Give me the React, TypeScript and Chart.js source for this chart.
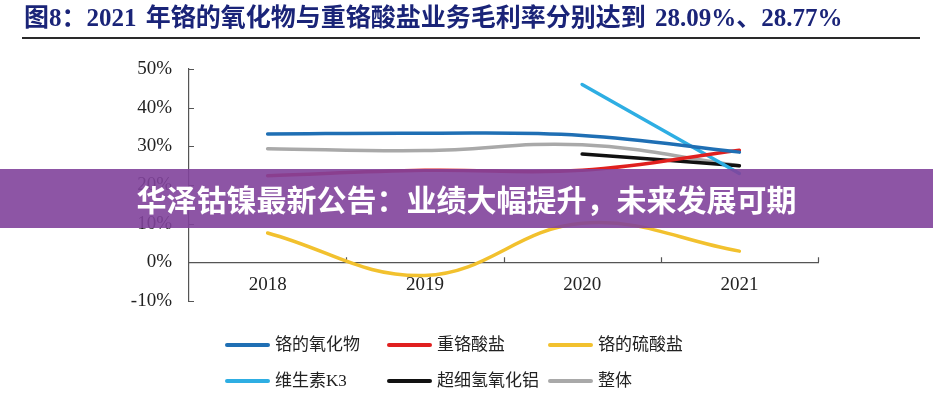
import React, { useEffect, useRef } from "react";
import { Chart, registerables } from "chart.js";

Chart.register(...registerables);

const titleText = "图8：2021 年铬的氧化物与重铬酸盐业务毛利率分别达到 28.09%、28.77%";
const bannerText = "华泽钴镍最新公告：业绩大幅提升，未来发展可期";

const years = ["2018", "2019", "2020", "2021"];
const yTicks = [-10, 0, 10, 20, 30, 40, 50];

const chromeOxide = [33.2, 33.4, 32.8, 28.5];
const dichromate = [22.4, 23.8, 23.8, 29.0];
const chromeSulfate = [7.6, -3.4, 10.1, 2.9];
const vitaminK3 = [null, null, 46.0, 23.0];
const aluminaHydroxide = [null, null, 28.0, 25.0];
const overall = [29.4, 28.9, 30.4, 25.0];

const seriesNames = ["铬的氧化物", "重铬酸盐", "铬的硫酸盐", "维生素K3", "超细氢氧化铝", "整体"];
const seriesColors = ["#1f6fb4", "#e0201f", "#f2c12e", "#2eaee3", "#111111", "#a9a9a9"];
const seriesValues = [chromeOxide, dichromate, chromeSulfate, vitaminK3, aluminaHydroxide, overall];

const innerTicks = {
  id: "innerTicks",
  beforeDatasetsDraw(chart: any) {
    const { ctx, scales } = chart;
    const x = scales.x;
    const y = scales.y;
    const y0 = y.getPixelForValue(0);
    ctx.save();
    ctx.strokeStyle = "#555";
    ctx.lineWidth = 1.2;
    ctx.beginPath();
    for (let i = 0; i < years.length; i++) {
      const px = Math.round(x.getPixelForValue(i + 0.5)) + 0.5;
      ctx.moveTo(px, y0);
      ctx.lineTo(px, y0 - 5);
    }
    const left = chart.chartArea.left;
    for (const v of yTicks) {
      const py = Math.round(y.getPixelForValue(v)) + 0.5;
      ctx.moveTo(left, py);
      ctx.lineTo(left + 5, py);
    }
    ctx.stroke();
    ctx.restore();
  },
};

function ChartCanvas() {
  const ref = useRef<HTMLCanvasElement | null>(null);
  useEffect(() => {
    if (!ref.current) return;
    const chart = new Chart(ref.current, {
      type: "line",
      data: {
        labels: years,
        datasets: seriesNames.map((name, i) => ({
          label: name,
          data: seriesValues[i],
          borderColor: seriesColors[i],
          backgroundColor: seriesColors[i],
          borderWidth: 3.5,
          pointRadius: 0,
          tension: 0.4,
          fill: false,
          borderCapStyle: "round",
        })),
      },
      options: {
        responsive: false,
        animation: false,
        layout: { padding: { top: 69, bottom: 97, right: 115, left: 0 } },
        plugins: { legend: { display: false }, tooltip: { enabled: false } },
        scales: {
          x: {
            type: "category",
            offset: true,
            position: { y: 0 } as any,
            grid: { display: false, drawTicks: false },
            border: { display: true, color: "#555", width: 1.2 },
            ticks: {
              padding: 11,
              color: "#222",
              font: { family: "'Liberation Serif', serif", size: 19 },
            },
          },
          y: {
            min: -10,
            max: 50,
            afterFit: (scale: any) => {
              scale.width = 189;
            },
            grid: { display: false, drawTicks: false },
            border: { display: true, color: "#555", width: 1.2 },
            ticks: {
              stepSize: 10,
              padding: 17,
              color: "#222",
              font: { family: "'Liberation Serif', serif", size: 19 },
              callback: (v: any) => `${v}%`,
            },
          },
        },
      },
      plugins: [innerTicks],
    });
    return () => chart.destroy();
  }, []);
  return <canvas ref={ref} width={933} height={398} style={{ position: "absolute", left: 0, top: 0, width: 933, height: 398 }} />;
}

export default function App() {
  const cols = [225, 387, 548];
  const rows = [345, 381];
  return (
    <div style={{ position: "fixed", left: 0, top: 0, width: 933, height: 398, background: "#fff", overflow: "hidden" }}>
      <ChartCanvas />
      <div
        style={{
          position: "absolute",
          left: 24,
          top: 5,
          height: 26,
          lineHeight: "26px",
          fontSize: 25,
          fontWeight: 700,
          color: "#1a2478",
          fontFamily: "'Liberation Serif', 'Noto Sans CJK SC', serif",
          whiteSpace: "nowrap",
          wordSpacing: 3,
        }}
      >
        {titleText}
      </div>
      <div style={{ position: "absolute", left: 22, top: 37, width: 898, height: 2, background: "#2a2a2a" }} />
      {seriesNames.map((name, i) => {
        const c = i % 3;
        const r = Math.floor(i / 3);
        return (
          <div
            key={name}
            style={{
              position: "absolute",
              left: cols[c],
              top: rows[r] - 12,
              height: 24,
              display: "flex",
              alignItems: "center",
              whiteSpace: "nowrap",
            }}
          >
            <div style={{ width: 45, height: 4, borderRadius: 2, background: seriesColors[i], marginRight: 5 }} />
            <span
              style={{
                fontSize: 17,
                lineHeight: "24px",
                color: "#222",
                fontFamily: "'Liberation Serif', 'Noto Sans CJK SC', serif",
              }}
            >
              {name}
            </span>
          </div>
        );
      })}
      <div
        style={{
          position: "absolute",
          left: 0,
          top: 169,
          width: 933,
          height: 59,
          background: "rgba(129, 66, 155, 0.9)",
          display: "flex",
          alignItems: "center",
          justifyContent: "center",
          zIndex: 5,
        }}
      >
        <span
          style={{
            color: "#fff",
            fontSize: 30,
            fontWeight: 700,
            fontFamily: "'Noto Sans CJK SC', sans-serif",
            whiteSpace: "nowrap",
            lineHeight: "59px",
          }}
        >
          {bannerText}
        </span>
      </div>
    </div>
  );
}
